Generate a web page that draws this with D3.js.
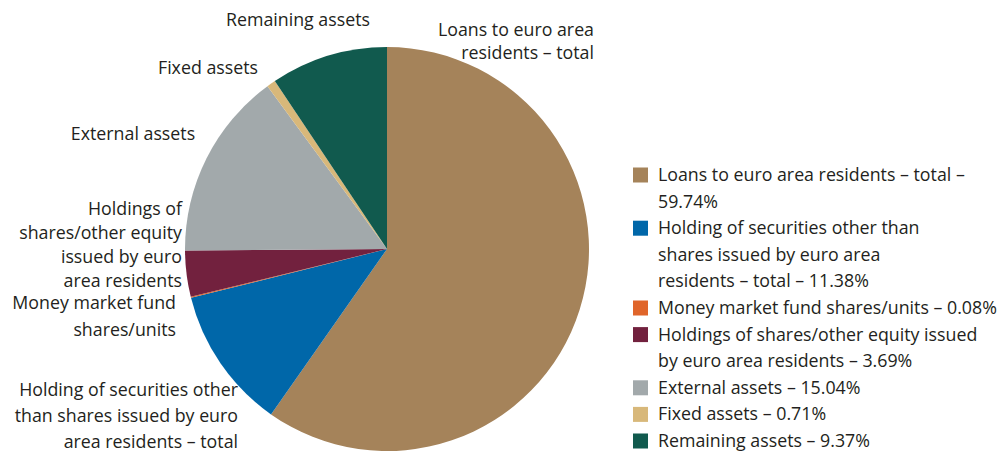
<!DOCTYPE html>
<html>
<head>
<meta charset="utf-8">
<script src="https://cdn.jsdelivr.net/npm/d3@7"></script>
<style>
  body { margin: 0; background: #fff; }
  text { font-family: "Open Sans", "Lato", sans-serif; fill: #231f20; }
</style>
</head>
<body>
<svg id="chart" width="1006" height="453"></svg>
<script>
// data
var categories = [
  "Loans to euro area residents – total",
  "Holding of securities other than shares issued by euro area residents – total",
  "Money market fund shares/units",
  "Holdings of shares/other equity issued by euro area residents",
  "External assets",
  "Fixed assets",
  "Remaining assets"
];
var shares = [59.74, 11.38, 0.08, 3.69, 15.04, 0.71, 9.37];
var colours = ["#a5835a", "#0067a9", "#e0652a", "#72213e", "#a2a9ab", "#d8b87a", "#115a4e"];

// slice labels (lines) next to the pie
var sliceLabels = [
  ["Loans to euro area", "residents – total"],
  ["Holding of securities other", "than shares issued by euro", "area residents – total"],
  ["Money market fund", "shares/units"],
  ["Holdings of", "shares/other equity", "issued by euro", "area residents"],
  ["External assets"],
  ["Fixed assets"],
  ["Remaining assets"]
];
// legend lines
var legendLabels = [
  ["Loans to euro area residents – total –", "59.74%"],
  ["Holding of securities other than", "shares issued by euro area", "residents – total – 11.38%"],
  ["Money market fund shares/units – 0.08%"],
  ["Holdings of shares/other equity issued", "by euro area residents – 3.69%"],
  ["External assets – 15.04%"],
  ["Fixed assets – 0.71%"],
  ["Remaining assets – 9.37%"]
];

// layout
var cx = 387, cy = 249, radius = 202;
var fontSize = 17.8;
var labelLayout = [
  {x: 594, y: 36, anchor: "end", lh: 23},
  {x: 238, y: 396, anchor: "end", lh: 26},
  {x: 176, y: 309, anchor: "end", lh: 27},
  {x: 182, y: 215, anchor: "end", lh: 24},
  {x: 133, y: 140, anchor: "middle", lh: 24},
  {x: 208, y: 74, anchor: "middle", lh: 24},
  {x: 298, y: 26, anchor: "middle", lh: 24}
];
var legendX = 633, legendY = 175, legendLH = 26.6, box = 15;

var svg = d3.select("#chart");

var pie = d3.pie().sort(null).value(function(d) { return d; });
var arc = d3.arc().innerRadius(0).outerRadius(radius);

var g = svg.append("g").attr("transform", "translate(" + cx + "," + cy + ")");
g.selectAll("path")
  .data(pie(shares))
  .enter()
  .append("path")
  .attr("d", arc)
  .attr("fill", function(d, i) { return colours[i]; });

// labels round the pie
sliceLabels.forEach(function(lines, i) {
  var L = labelLayout[i];
  var t = svg.append("text")
    .attr("text-anchor", L.anchor)
    .attr("font-size", fontSize);
  lines.forEach(function(line, j) {
    t.append("tspan").attr("x", L.x).attr("y", L.y + j * L.lh).text(line);
  });
});

// legend
var row = 0;
legendLabels.forEach(function(lines, i) {
  var y0 = legendY + row * legendLH;
  svg.append("rect")
    .attr("x", legendX)
    .attr("y", y0 - box / 2)
    .attr("width", box)
    .attr("height", box)
    .attr("fill", colours[i]);
  var t = svg.append("text").attr("font-size", fontSize);
  lines.forEach(function(line, j) {
    t.append("tspan")
      .attr("x", legendX + 25)
      .attr("y", legendY + (row + j) * legendLH + 6)
      .text(line);
  });
  row += lines.length;
});
</script>
</body>
</html>
